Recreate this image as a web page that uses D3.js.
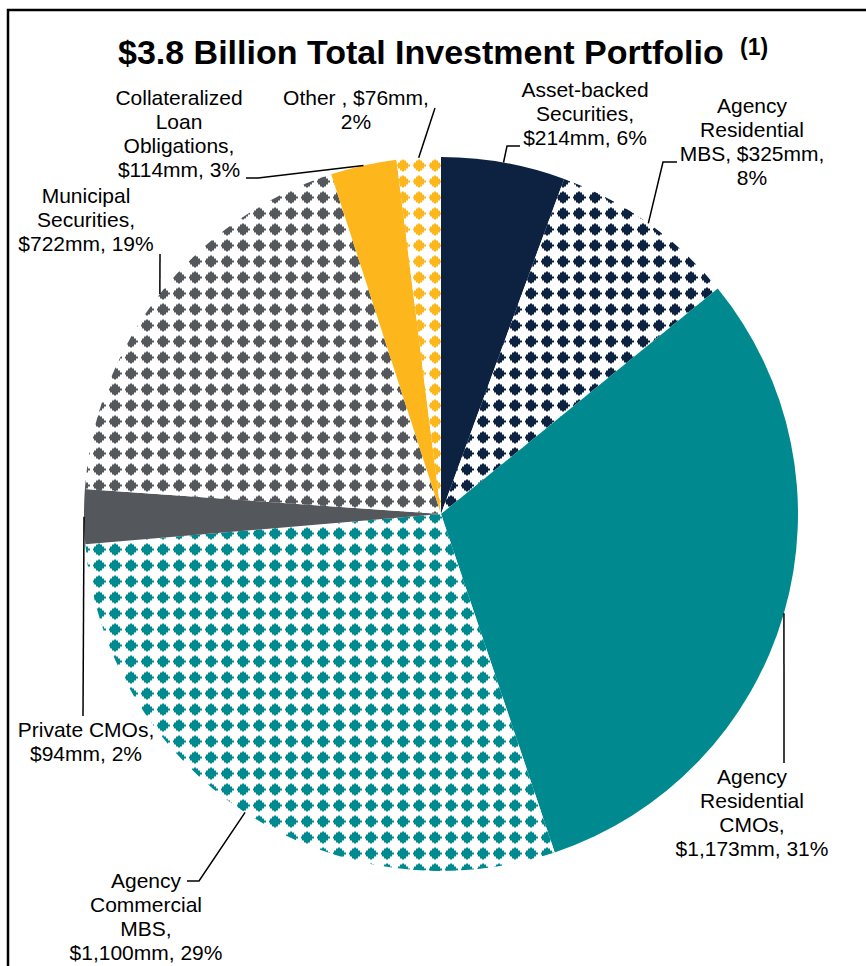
<!DOCTYPE html>
<html>
<head>
<meta charset="utf-8">
<script src="https://cdn.jsdelivr.net/npm/d3@7"></script>
<style>
  html, body { margin: 0; padding: 0; background: #fff; }
  svg { display: block; }
  text { font-family: "Liberation Sans", Arial, sans-serif; }
</style>
</head>
<body>
<svg id="chart" width="866" height="966"></svg>
<script>
// Portfolio composition, clockwise from 12 o'clock
const categories = [
  "Asset-backed Securities",
  "Agency Residential MBS",
  "Agency Residential CMOs",
  "Agency Commercial MBS",
  "Private CMOs",
  "Municipal Securities",
  "Collateralized Loan Obligations",
  "Other"
];
const amounts = [214, 325, 1173, 1100, 94, 722, 114, 76];      // $mm
const shares = [6, 8, 31, 29, 2, 19, 3, 2];                     // % as reported
const fillKinds = ["solid", "pattern", "solid", "pattern", "solid", "pattern", "solid", "pattern"];
const palette = ["#0d2240", "#0d2240", "#008a8f", "#008a8f", "#54575b", "#54575b", "#fdb71c", "#fdb71c"];

// Label text lines; {v} = amount, {p} = share
const labelLines = [
  ["Asset-backed", "Securities,", "{v}, {p}"],
  ["Agency", "Residential", "MBS, {v},", "{p}"],
  ["Agency", "Residential", "CMOs,", "{v}, {p}"],
  ["Agency", "Commercial", "MBS,", "{v}, {p}"],
  ["Private CMOs,", "{v}, {p}"],
  ["Municipal", "Securities,", "{v}, {p}"],
  ["Collateralized", "Loan", "Obligations,", "{v}, {p}"],
  ["Other , {v},", "{p}"]
];

// Label placement: text centre, first baseline, leader bend points (after the pie-edge point)
const labelLayout = [
  { x: 585, y: 97,  leader: [[507, 146], [520, 146]] },
  { x: 752, y: 113, leader: [[663, 162], [677, 162]] },
  { x: 752, y: 784, leader: [[784, 763]] },
  { x: 146, y: 888, leader: [[199, 881], [187, 881]] },
  { x: 86,  y: 737, leader: [[83, 716]] },
  { x: 86,  y: 203, leader: [[160, 254]] },
  { x: 179, y: 105, leader: [[258, 178], [246, 178]] },
  { x: 356, y: 105, leader: [[435, 108]] }
];

const W = 866, H = 966;
const cx = 441, cy = 514, R = 357;
const lineGap = 24;

const svg = d3.select("#chart");
const defs = svg.append("defs");

// Stepped-diamond pattern tile
const diamondRows = [
  [2, 3, 1], [3, 5, 3], [5, 7, 5], [7, 9, 6.5], [9, 11, 5], [11, 13, 3], [13, 14, 1]
];
const uniqueColors = Array.from(new Set(palette));
uniqueColors.forEach((c, i) => {
  const p = defs.append("pattern")
    .attr("id", "dots" + i)
    .attr("patternUnits", "userSpaceOnUse")
    .attr("x", 2).attr("y", -4.5)
    .attr("width", 16).attr("height", 16);
  p.append("rect").attr("width", 16).attr("height", 16).attr("fill", "#fff");
  p.selectAll("rect.d").data(diamondRows).join("rect")
    .attr("class", "d")
    .attr("x", d => 8 - d[2]).attr("width", d => 2 * d[2])
    .attr("y", d => d[0]).attr("height", d => d[1] - d[0])
    .attr("fill", c)
    .attr("shape-rendering", "crispEdges");
});
const fillFor = i => fillKinds[i] === "solid"
  ? palette[i]
  : `url(#dots${uniqueColors.indexOf(palette[i])})`;

// Frame
svg.append("path")
  .attr("d", `M8,${H} V10 H${W}`)
  .attr("fill", "none").attr("stroke", "#000").attr("stroke-width", 2.5);

// Title
svg.append("text")
  .attr("x", 118).attr("y", 64)
  .attr("font-size", 34).attr("font-weight", "bold").attr("fill", "#000")
  .text("$3.8 Billion Total Investment Portfolio");
svg.append("text")
  .attr("x", 740).attr("y", 55)
  .attr("font-size", 23).attr("font-weight", "bold").attr("fill", "#000")
  .text("(1)");

// Pie
const data = categories.map((c, i) => ({ name: c, value: amounts[i], i }));
const pie = d3.pie().value(d => d.value).sort(null);
const arcs = pie(data);
const arc = d3.arc().innerRadius(0).outerRadius(R);
const edge = d3.arc().innerRadius(R).outerRadius(R);

const g = svg.append("g").attr("transform", `translate(${cx},${cy})`);
g.selectAll("path.slice").data(arcs).join("path")
  .attr("class", "slice")
  .attr("d", arc)
  .attr("fill", d => fillFor(d.data.i));

// Leader lines from the slice's outer edge at its mid-angle
const line = d3.line();
svg.selectAll("path.leader").data(arcs).join("path")
  .attr("class", "leader")
  .attr("d", d => {
    const [ex, ey] = edge.centroid(d);
    const pts = [[cx + ex, cy + ey], ...labelLayout[d.data.i].leader];
    return line(pts);
  })
  .attr("fill", "none").attr("stroke", "#000").attr("stroke-width", 1.5);

// Labels
const fmtAmt = v => "$" + d3.format(",")(v) + "mm";
const labels = svg.selectAll("text.lbl").data(arcs).join("text")
  .attr("class", "lbl")
  .attr("text-anchor", "middle")
  .attr("font-size", 21).attr("fill", "#000");
labels.each(function (d) {
  const i = d.data.i, lay = labelLayout[i];
  d3.select(this).selectAll("tspan")
    .data(labelLines[i].map(s => s.replace("{v}", fmtAmt(amounts[i])).replace("{p}", shares[i] + "%")))
    .join("tspan")
    .attr("x", lay.x)
    .attr("y", (s, k) => lay.y + k * lineGap)
    .text(s => s);
});
</script>
</body>
</html>
